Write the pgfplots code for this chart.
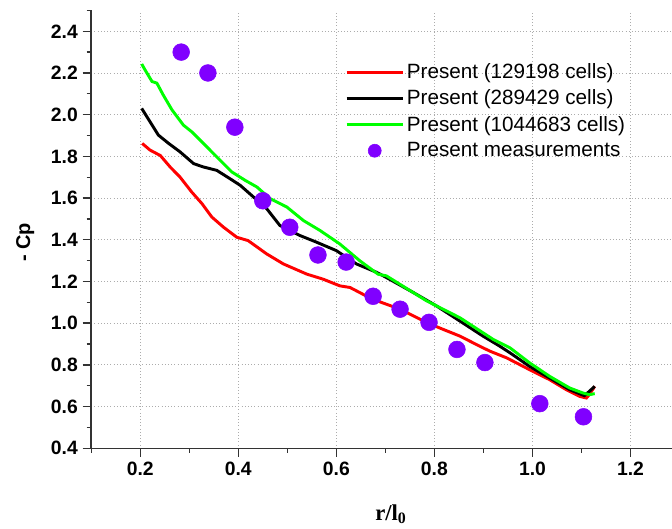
\documentclass[border=0pt]{standalone}
\usepackage{pgfplots}
\pgfplotsset{compat=1.18}
\usepackage{fontspec}
\setmainfont{Liberation Sans}
\newfontfamily\timesfont{Liberation Serif}
\definecolor{violetm}{RGB}{128,0,255}
\definecolor{greenl}{RGB}{0,255,0}
\pgfplotsset{
  lineleg/.style={legend image code/.code={\draw[##1] (0pt,0pt) -- (42pt,0pt);}},
  markleg/.style={legend image code/.code={\draw[##1, mark size=4.9pt] plot coordinates {(21pt,0pt)};}},
}
\begin{document}
\begin{tikzpicture}
\path[use as bounding box] (-68.4pt,-60.5pt) rectangle (435.6pt,336.2pt);
\begin{axis}[
  at={(0pt,0pt)}, anchor=south west,
  scale only axis, width=435.6pt, height=328.4pt,
  xmin=0.1, xmax=1.2846, ymin=0.4, ymax=2.5,
  axis x line*=bottom, axis y line*=left,
  axis line style={line width=1.1pt, black!80, -},
  tick align=outside,
  major tick length=6.5pt, minor tick length=3.5pt,
  every tick/.style={black!80, line width=1.0pt},
  xtick={0.2,0.4,0.6,0.8,1.0,1.2},
  ytick={0.4,0.6,0.8,1.0,1.2,1.4,1.6,1.8,2.0,2.2,2.4},
  minor xtick={0.1,0.3,0.5,0.7,0.9,1.1},
  minor ytick={0.5,0.7,0.9,1.1,1.3,1.5,1.7,1.9,2.1,2.3,2.5},
  grid=major,
  major grid style={dotted, gray!65, line width=0.6pt},
  tick label style={font=\fontsize{14.5}{16}\selectfont\bfseries},
  /pgf/number format/.cd, fixed, fixed zerofill, precision=1, assume math mode=true,
  /pgfplots/.cd,
  xlabel={\timesfont\bfseries r/l\textsubscript{0}},
  xlabel style={at={(axis description cs:0.516,-0.151)}, anchor=center, font=\fontsize{17}{20}\selectfont},
  ylabel={- Cp},
  ylabel style={at={(axis description cs:-0.1136,0.47)}, anchor=center, font=\fontsize{15}{17}\selectfont\bfseries},
  legend style={at={(axis description cs:0.437,0.885)}, anchor=north west, draw=none, fill=none,
    font=\fontsize{15.5}{17}\selectfont, row sep=3pt, inner sep=0pt},
  legend cell align=left,
]
\addplot[red, line width=2.2pt, lineleg] table {
x y
0.204 1.862
0.220 1.830
0.241 1.804
0.261 1.749
0.281 1.701
0.305 1.629
0.326 1.573
0.346 1.509
0.370 1.460
0.397 1.412
0.420 1.396
0.458 1.332
0.492 1.284
0.540 1.235
0.573 1.211
0.607 1.179
0.628 1.171
0.654 1.139
0.675 1.114
0.730 1.067
0.784 1.003
0.818 0.970
0.852 0.938
0.892 0.890
0.913 0.866
0.947 0.834
0.994 0.777
1.035 0.729
1.069 0.681
1.096 0.649
1.110 0.641
1.116 0.657
1.127 0.697
};
\addlegendentry{Present (129198 cells)}
\addplot[black, line width=2.2pt, lineleg] table {
x y
0.203 2.030
0.220 1.966
0.237 1.902
0.258 1.862
0.281 1.822
0.309 1.765
0.329 1.749
0.356 1.733
0.383 1.693
0.404 1.661
0.431 1.605
0.458 1.549
0.485 1.468
0.526 1.420
0.560 1.388
0.600 1.348
0.641 1.284
0.682 1.244
0.702 1.219
0.757 1.147
0.804 1.083
0.852 1.010
0.899 0.938
0.933 0.890
0.954 0.858
0.994 0.793
1.035 0.737
1.076 0.681
1.106 0.652
1.116 0.673
1.127 0.697
};
\addlegendentry{Present (289429 cells)}
\addplot[greenl, line width=2.2pt, lineleg] table {
x y
0.203 2.243
0.210 2.214
0.224 2.159
0.234 2.151
0.247 2.094
0.265 2.022
0.288 1.950
0.305 1.918
0.322 1.878
0.339 1.838
0.363 1.781
0.387 1.725
0.414 1.685
0.438 1.653
0.465 1.597
0.499 1.557
0.533 1.492
0.567 1.444
0.607 1.380
0.648 1.299
0.685 1.235
0.702 1.227
0.784 1.107
0.852 1.026
0.920 0.922
0.954 0.882
0.994 0.810
1.035 0.745
1.076 0.689
1.103 0.665
1.116 0.657
1.127 0.662
};
\addlegendentry{Present (1044683 cells)}
\addplot[only marks, mark=*, mark size=6.3pt, violetm, mark options={fill=violetm, draw=violetm}, markleg] table {
x y
0.2835 2.300
0.338 2.200
0.393 1.940
0.450 1.587
0.505 1.460
0.5625 1.327
0.620 1.293
0.675 1.129
0.730 1.067
0.789 1.004
0.846 0.874
0.903 0.811
1.015 0.614
1.104 0.551
};
\addlegendentry{Present measurements}
\end{axis}
\end{tikzpicture}
\end{document}
